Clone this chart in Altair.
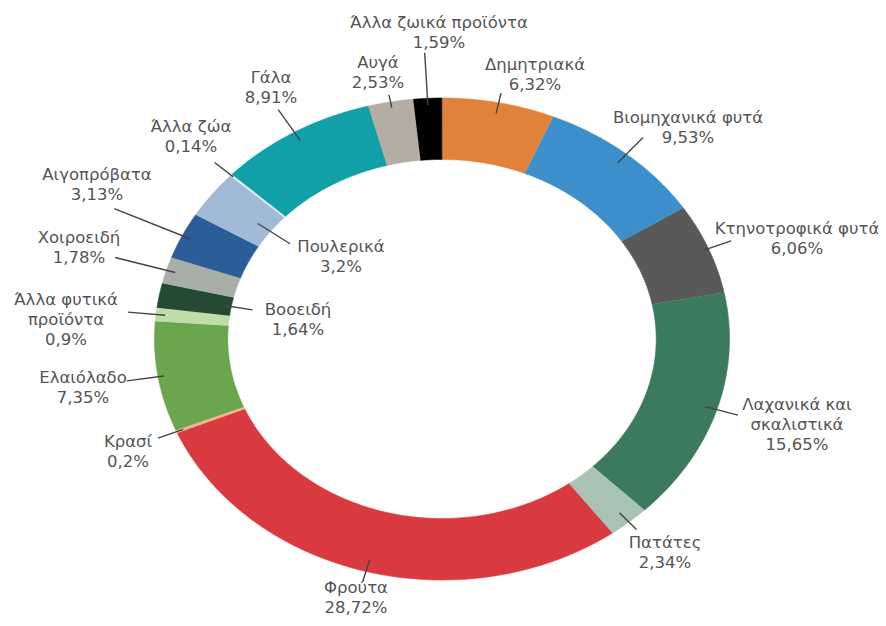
import altair as alt
import pandas as pd

# ---------------- data ----------------
categories = ["Δημητριακά", "Βιομηχανικά φυτά", "Κτηνοτροφικά φυτά",
              "Λαχανικά και σκαλιστικά", "Πατάτες", "Φρούτα", "Κρασί",
              "Ελαιόλαδο", "Άλλα φυτικά προϊόντα", "Βοοειδή", "Χοιροειδή",
              "Αιγοπρόβατα", "Πουλερικά", "Άλλα ζώα", "Γάλα", "Αυγά",
              "Άλλα ζωικά προϊόντα"]
values = [6.32, 9.53, 6.06, 15.65, 2.34, 28.72, 0.2, 7.35, 0.9, 1.64,
          1.78, 3.13, 3.2, 0.14, 8.91, 2.53, 1.59]
colors = ["#E0823A", "#3D8FCB", "#595959", "#3B7A5C", "#A8C3B3", "#D93A40",
          "#F2B38F", "#6BA54D", "#BFDCA9", "#254A32", "#A8AFA8", "#2B5E98",
          "#A3BAD6", "#D8EEF0", "#12A0A8", "#B5ADA2", "#000000"]
label_names = ["Δημητριακά", "Βιομηχανικά φυτά", "Κτηνοτροφικά φυτά",
               "Λαχανικά και\nσκαλιστικά", "Πατάτες", "Φρούτα", "Κρασί",
               "Ελαιόλαδο", "Άλλα φυτικά\nπροϊόντα", "Βοοειδή", "Χοιροειδή",
               "Αιγοπρόβατα", "Πουλερικά", "Άλλα ζώα", "Γάλα", "Αυγά",
               "Άλλα ζωικά προϊόντα"]

# ---------------- layout ----------------
W, H = 870, 610            # plot area (page minus 8px margins)
CX, CY = 442, 339          # ring centre, page pixels
RX, RY = 287.5, 241        # outer radii, pixels
INNER = 0.745              # inner radius fraction
N = 60                     # points per arc edge
# centre of the first text line of each label, page pixels
label_px = [(535, 65), (688, 118), (797, 229), (797, 405), (665, 543),
            (356, 588), (128, 442), (83, 378), (66, 300), (298, 310),
            (79, 238), (97, 175), (341, 247), (191, 127), (271, 78),
            (378, 63), (439, 23)]
leader_r = [(0.955, 1.04), (0.953, 1.09), (0.98, 1.085), (0.957, 1.077),
            (0.949, 1.04), (0.949, 1.04), (0.975, 1.07), (0.979, 1.11),
            (0.968, 1.098), (0.78, 0.67), (0.968, 1.186), (0.97, 1.262),
            (0.80, 0.66), (0.99, 1.078), (0.959, 1.109), (0.976, 1.03),
            (0.972, 1.189)]

xs = alt.Scale(domain=[(8 - CX) / RX, (8 + W - CX) / RX], nice=False, zero=False)
ys = alt.Scale(domain=[(CY - 8 - H) / RY, (CY - 8) / RY], nice=False, zero=False)
cs = alt.Scale(domain=categories, range=colors)

def pct(v):
    return f"{v}".replace(".", ",") + "%"

df = pd.DataFrame({
    "cat": categories,
    "val": values,
    "k": list(range(len(categories))),
    "label": [f"{n}\n{pct(v)}" for n, v in zip(label_names, values)],
    "lx": [(p[0] - CX) / RX for p in label_px],
    "ly": [(CY - p[1]) / RY for p in label_px],
    "r_in": [r[0] for r in leader_r],
    "r_out": [r[1] for r in leader_r],
})

base = alt.Chart(df).transform_window(
    cum="sum(val)", sort=[alt.SortField("k")], frame=[None, 0]
).transform_calculate(
    start="datum.cum - datum.val"
).transform_calculate(
    mid="(datum.cum - datum.val / 2) / 100 * 2 * PI"
)

slices = base.transform_calculate(
    seq=f"sequence(0, {2 * (N + 1)})"
).transform_flatten(
    ["seq"], as_=["i"]
).transform_calculate(
    j=f"datum.i <= {N} ? datum.i : datum.i - {N + 1}"
).transform_calculate(
    t=f"datum.i <= {N} ? datum.start + datum.val * datum.j / {N} : datum.cum - datum.val * datum.j / {N}"
).transform_calculate(
    r=f"datum.i <= {N} ? 1 : {INNER}"
).transform_calculate(
    ang="datum.t / 100 * 2 * PI"
).transform_calculate(
    px="datum.r * sin(datum.ang)"
).transform_calculate(
    py="datum.r * cos(datum.ang)"
).mark_line(strokeWidth=0.6, interpolate="linear").encode(
    x=alt.X("px:Q", scale=xs, axis=None),
    y=alt.Y("py:Q", scale=ys, axis=None),
    order="i:Q",
    color=alt.Color("cat:N", scale=cs, legend=None),
    fill=alt.Fill("cat:N", scale=cs, legend=None),
)

leaders = base.transform_calculate(
    x1="datum.r_in * sin(datum.mid)"
).transform_calculate(
    y1="datum.r_in * cos(datum.mid)"
).transform_calculate(
    x2="datum.r_out * sin(datum.mid)"
).transform_calculate(
    y2="datum.r_out * cos(datum.mid)"
).mark_rule(color="#444444", strokeWidth=1.4).encode(
    x=alt.X("x1:Q", scale=xs, axis=None),
    y=alt.Y("y1:Q", scale=ys, axis=None),
    x2="x2:Q",
    y2="y2:Q",
)

texts = base.mark_text(
    font="DejaVu Sans", fontSize=16.5, color="#555555", lineHeight=20,
    align="center", baseline="middle", lineBreak="\n"
).encode(
    x=alt.X("lx:Q", scale=xs, axis=None),
    y=alt.Y("ly:Q", scale=ys, axis=None),
    text="label:N",
)

chart = alt.layer(slices, leaders, texts).properties(
    width=W, height=H, padding=0, autosize="none"
).configure_view(stroke=None)

chart.save("out.html", embed_options={"renderer": "svg", "actions": False})
